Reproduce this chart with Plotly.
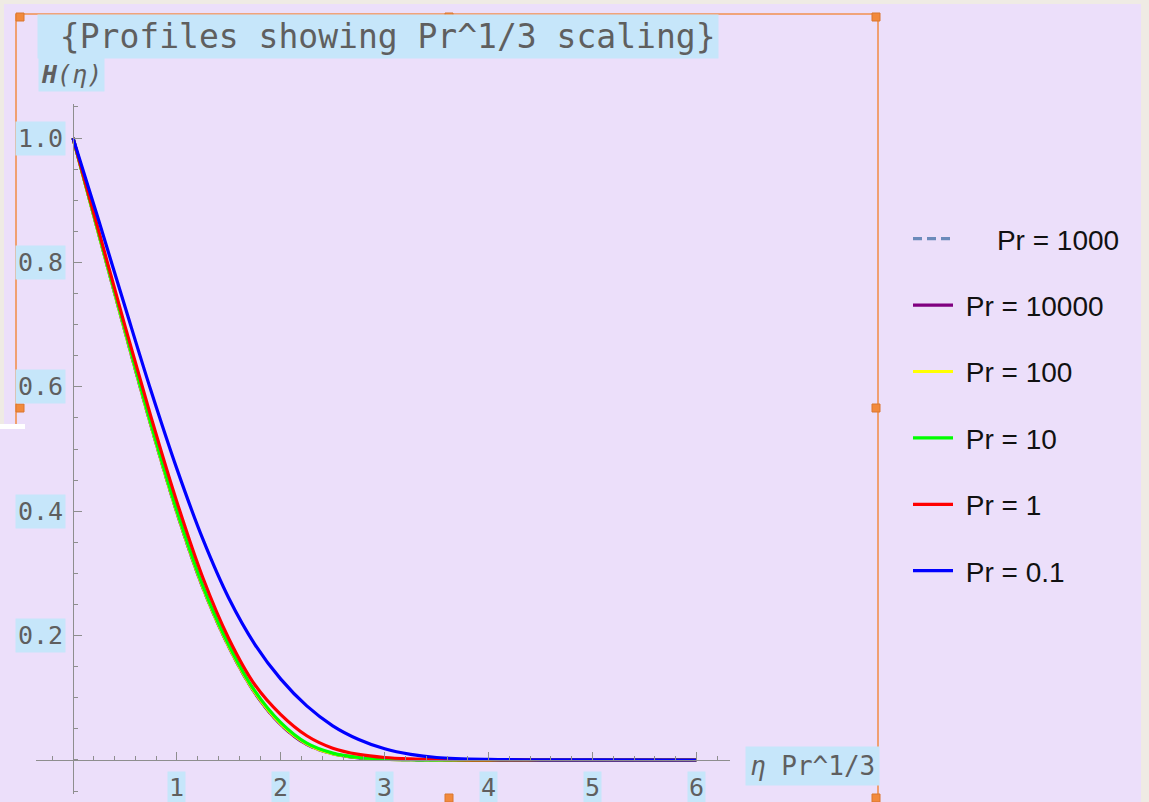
import plotly.graph_objects as go

# ---- data ----
eta_scaled = [0, 0.25, 0.5, 0.75, 1.0, 1.25, 1.5, 1.75, 2.0, 2.25, 2.5, 2.75, 3.0, 3.25, 3.5, 4.0, 4.5, 5.0, 6.0]
H_pr1000 = [1.000, 0.844, 0.689, 0.538, 0.398, 0.277, 0.182, 0.108, 0.057, 0.025, 0.010, 0.0035, 0.0013, 0.0004, 0.0001, 0.0, 0.0, 0.0, 0.0]
H_pr10000 = [1.000, 0.844, 0.689, 0.538, 0.398, 0.277, 0.182, 0.108, 0.057, 0.025, 0.010, 0.0035, 0.0013, 0.0004, 0.0001, 0.0, 0.0, 0.0, 0.0]
H_pr100 = [1.000, 0.844, 0.690, 0.539, 0.399, 0.278, 0.183, 0.109, 0.058, 0.026, 0.010, 0.004, 0.0014, 0.0005, 0.0002, 0.0, 0.0, 0.0, 0.0]
H_pr10 = [1.000, 0.845, 0.692, 0.541, 0.401, 0.280, 0.185, 0.111, 0.060, 0.027, 0.011, 0.004, 0.0015, 0.0005, 0.0002, 0.0, 0.0, 0.0, 0.0]
H_pr1 = [1.000, 0.849, 0.698, 0.552, 0.415, 0.293, 0.195, 0.121, 0.073, 0.039, 0.019, 0.009, 0.004, 0.0018, 0.0008, 0.0002, 0.0, 0.0, 0.0]
H_pr01 = [1.000, 0.866, 0.729, 0.594, 0.468, 0.355, 0.260, 0.186, 0.130, 0.087, 0.055, 0.033, 0.018, 0.009, 0.004, 0.001, 0.0003, 0.0001, 0.0]

series_names = ["Pr = 1000", "Pr = 10000", "Pr = 100", "Pr = 10", "Pr = 1", "Pr = 0.1"]
series_values = [H_pr1000, H_pr10000, H_pr100, H_pr10, H_pr1, H_pr01]
series_colors = ["#6b8aba", "#800080", "#ffff00", "#00ff00", "#ff0000", "#0000ff"]
series_dash = ["9px,5px", "solid", "solid", "solid", "solid", "solid"]
legend_pad = [5, 1, 1, 1, 1, 1]   # leading spaces before legend text

x_ticks = [1, 2, 3, 4, 5, 6]
x_tick_labels = ["1", "2", "3", "4", "5", "6"]
y_ticks = [0.2, 0.4, 0.6, 0.8, 1.0]
y_tick_labels = ["0.2", "0.4", "0.6", "0.8", "1.0"]

title_text = "\u00a0{Profiles showing Pr^1/3 scaling}"
y_label = "<i><b>H</b>(η)</i>"
x_label = "<i>η</i> Pr^1/3"

# ---- style ----
W, H = 1149, 802
BG = "#ecdffa"
HL = "#c6e6fa"
TXT = "#5f5f5f"
AX = "#8e8e8e"
ORANGE = "#f2904f"
BEIGE = "#efebe4"
MONO = "DejaVu Sans Mono"

def px(x):
    return x / W

def py(y):
    return 1 - y / H

fig = go.Figure()
for name, vals, col, dsh, pad in zip(series_names, series_values, series_colors, series_dash, legend_pad):
    fig.add_trace(go.Scatter(
        x=eta_scaled, y=vals, mode="lines", name="\u00a0" * pad + name, legendgroup=name,
        line=dict(color=col, width=3.2, dash=dsh, shape="spline", smoothing=1.0),
    ))

# axis geometry (pixels)
x_lo_px, x_hi_px = 35.6, 729.6
y_top_px, y_bot_px = 103.8, 794.2
origin_x_px, origin_y_px = 73.0, 760.0

fig.update_layout(
    width=W, height=H,
    margin=dict(l=0, r=0, t=0, b=0),
    paper_bgcolor=BG, plot_bgcolor=BG,
    showlegend=True,
    legend=dict(
        x=px(908), y=py(214), xanchor="left", yanchor="top",
        bgcolor="rgba(0,0,0,0)", font=dict(family="Liberation Sans, Arial", size=28, color="#111111"),
        tracegroupgap=27, itemwidth=40, traceorder="grouped",
    ),
    xaxis=dict(
        domain=[px(x_lo_px), px(x_hi_px)], range=[-0.36, 6.32],
        anchor="free", position=py(origin_y_px),
        showgrid=False, zeroline=False, showline=True, linecolor=AX, linewidth=1.3,
        ticks="inside", ticklen=8, tickcolor=AX, tickwidth=1.2,
        tickvals=x_ticks, showticklabels=False,
        minor=dict(dtick=0.2, tick0=0, ticks="inside", ticklen=4, tickcolor=AX, tickwidth=1),
    ),
    yaxis=dict(
        domain=[py(y_bot_px), py(y_top_px)], range=[-0.055, 1.055],
        anchor="free", position=px(origin_x_px),
        showgrid=False, zeroline=False, showline=True, linecolor=AX, linewidth=1.3,
        ticks="inside", ticklen=8, tickcolor=AX, tickwidth=1.2,
        tickvals=y_ticks, showticklabels=False,
        minor=dict(dtick=0.05, tick0=0, ticks="inside", ticklen=4, tickcolor=AX, tickwidth=1),
    ),
)

annotations = []
for v, lab in zip(y_ticks, y_tick_labels):
    annotations.append(dict(
        x=px(66), xref="paper", xanchor="right", y=v, yref="y", yanchor="middle",
        text=lab, showarrow=False, bgcolor=HL, borderpad=2,
        font=dict(family=MONO, size=25, color=TXT),
    ))
for v, lab in zip(x_ticks, x_tick_labels):
    annotations.append(dict(
        x=v, xref="x", xanchor="center", y=py(771), yref="paper", yanchor="top",
        text=lab, showarrow=False, bgcolor=HL, borderpad=1,
        font=dict(family=MONO, size=25, color=TXT),
    ))
annotations.append(dict(
    x=px(745), xref="paper", xanchor="left", y=py(766), yref="paper", yanchor="middle",
    text=x_label, showarrow=False, bgcolor=HL, borderpad=4,
    font=dict(family=MONO, size=26, color=TXT),
))
annotations.append(dict(
    x=px(38), xref="paper", xanchor="left", y=py(74), yref="paper", yanchor="middle",
    text=y_label, showarrow=False, bgcolor=HL, borderpad=2,
    font=dict(family=MONO, size=25, color=TXT),
))
annotations.append(dict(
    x=px(37), xref="paper", xanchor="left", y=py(37), yref="paper", yanchor="middle",
    text=title_text, showarrow=False, bgcolor=HL, borderpad=2,
    font=dict(family=MONO, size=33, color=TXT),
))
fig.update_layout(annotations=annotations)

# decorations: screenshot frame / margins
shapes = []
def rect(x0, y0, x1, y1, fill, line=None, layer="below"):
    shapes.append(dict(type="rect", xref="paper", yref="paper",
                       x0=px(x0), x1=px(x1), y0=py(y1), y1=py(y0),
                       fillcolor=fill, line=dict(width=0) if line is None else line, layer=layer))
def seg(x0, y0, x1, y1, col, w):
    shapes.append(dict(type="line", xref="paper", yref="paper",
                       x0=px(x0), x1=px(x1), y0=py(y0), y1=py(y1),
                       line=dict(color=col, width=w), layer="above"))

rect(0, 0, W, 4, BEIGE)
rect(0, 0, 4, 424, BEIGE)
rect(1141, 0, W, H, BEIGE)
rect(0, 424, 25, 429, "#ffffff")
seg(16, 14, 878, 14, ORANGE, 1.6)
seg(16, 14, 16, 424, ORANGE, 1.6)
seg(878, 14, 878, 802, ORANGE, 1.6)
for hx, hy in [(20, 17), (449, 17), (876, 17), (20, 408), (876, 408), (449, 798), (876, 798)]:
    rect(hx - 4, hy - 4, hx + 4, hy + 4, "#f28a3c", line=dict(color="#d9772f", width=1), layer="above")
fig.update_layout(shapes=shapes)

fig.write_html("out.html")
